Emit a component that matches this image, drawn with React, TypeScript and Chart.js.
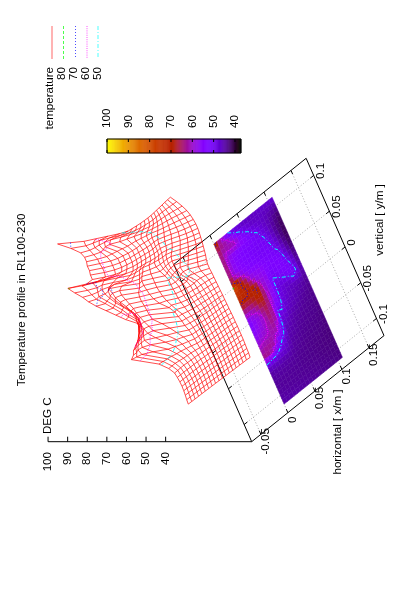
import React, { useEffect, useRef } from "react";
import { Chart, registerables } from "chart.js";

Chart.register(...registerables);

const chartTitle = "Temperature profile in RL100-230";
const xAxisTitle = "horizontal [ x/m ]";
const yAxisTitle = "vertical [ y/m ]";
const zAxisTitle = "DEG C";
const surfaceName = "temperature";

const xTicks = [-0.05, 0, 0.05, 0.1, 0.15];
const yTicks = [-0.1, -0.05, 0, 0.05, 0.1];
const zTicks = [40, 50, 60, 70, 80, 90, 100];
const colorTicks = [100, 90, 80, 70, 60, 50, 40];
const contourLevels = [80, 70, 60, 50];
const contourColors = ["#00ff00", "#0000ff", "#ff00ff", "#00ffff"];
const contourDashes = [[3, 2], [1, 2], [1, 1.2], [4, 2, 1, 2]];

const xRange = [-0.067, 0.178];
const yRange = [-0.124, 0.124];
const gridX = [0, 0.108];
const gridY = [0.112, -0.112];

// Temperature by row (x, front to back) and column (y, high to low)
const temperature: number[][] = [
  [75.8,70,66,65,65,65.6,65.5,66,66,70,80.5,78,75,73,70,66,62,58,52,53,54,55.5,57,59,61,62,64,51,47,45,44.6,44.3,44.2,44.3,44.5,44.8,45],
  [64,64,63,62,61,61,60.5,60.5,61,66,75,73,72,70.5,67,64,61,58,55,55,56,57,58,60,61.5,62,63,50.5,47,45,44.6,44.3,44.2,44.3,44.5,44.7,44.9],
  [59.6,62,62,60,58,57,57,57,57.5,63,71,70,70.5,71,68,65,62,60,57,57,57.5,58,59,60.5,62,63,62,50,47,45.2,44.6,44.3,44.2,44.2,44.4,44.6,44.8],
  [55,60.5,61.5,60.5,57,55,55,55,56,60,67,69,70,69.5,68,66,63,60.5,58.5,58,58.5,59,59.5,61,62,62.5,58,49.5,46.5,45.2,44.6,44.3,44.1,44.1,44.3,44.5,44.7],
  [50.6,57,60.5,61,56,54,54,54,55,56.5,62,65,68,69.5,69.5,68,66,63.5,61,60,60,60.5,60.5,61.5,62,60,52,48.5,46,45,44.5,44.2,44.1,44.1,44.3,44.5,44.7],
  [48,53,59,60.5,55,53,53,53,53.5,54.5,57,60,67,71,70,69.5,68,66,64.5,64,63,62.5,62,61,58,54,50,48,45.8,44.8,44.4,44.2,44.1,44.1,44.2,44.4,44.6],
  [47.5,50,55.5,57,54,52.5,52.5,52.5,53,54,56,58,60,66,68,68,67,66,65,64.5,63.5,62.5,61,60,54,50,48,47,45.5,44.7,44.3,44.1,44,44,44.1,44.3,44.5],
  [47,48.5,52.5,55,53.5,52,52,52,52.5,53.5,55.5,56.5,57.5,58.5,59.5,61,61.5,61.5,61,60.8,60.5,60,56,53,50.5,48,46.5,46,45,44.5,44.2,44,43.9,43.9,44,44.2,44.4],
  [46.6,47.5,50,53,53,52,51.5,51.5,52,53,55.5,56.5,58,59,59,58.5,58,57,55,51,49,48.3,47.5,47,46,45.3,45,44.7,44.4,44.1,43.9,43.8,43.8,43.9,44,44.1,44.3],
  [46.4,47,49,51,52,51.5,51,51,51.5,52,54,54.5,55,55,55,55,54.5,54,53,51.5,50,48,47,46,45.3,45,44.7,44.4,44.1,43.9,43.8,43.7,43.7,43.8,43.9,44,44.2],
  [46.3,46.5,47.5,49.5,51,51,50.7,50.7,51,51.5,53,53,52,50.5,49.5,49.5,49.3,49,48.8,48.3,47.5,46.8,46,45.4,45,44.7,44.4,44.1,43.9,43.8,43.7,43.6,43.6,43.7,43.8,43.9,44.1],
  [46.3,46.3,47,48.5,50.2,50.8,50.8,51,51,51.3,52.5,52.5,52,51,50,48.8,48,47.8,47.5,47,46.5,46,45.3,44.8,44.5,44.3,44.1,43.9,43.8,43.6,43.5,43.5,43.5,43.6,43.7,43.8,44],
  [46.5,46.4,46.8,47.5,48.5,49.6,50.5,51,51.2,51.5,52,52.5,52.5,52,51,49,47.5,47,46.8,46.4,46,45.5,44.9,44.5,44.3,44.1,43.9,43.7,43.6,43.5,43.4,43.4,43.4,43.5,43.6,43.7,43.9],
  [46.8,46.5,46.5,46.8,47.3,48,48.8,49.5,50,50.6,52,52.5,52.7,52.5,51.5,50,47.3,46.4,46.2,45.9,45.5,45,44.5,44.2,44,43.9,43.7,43.6,43.5,43.4,43.3,43.3,43.3,43.4,43.5,43.6,43.8],
  [47,46.5,46.2,46.2,46.3,46.7,47,47.8,48.5,49.4,50.7,52,52.5,52.5,52,51,48.5,46.2,45.7,45.4,45,44.6,44.2,44,43.8,43.7,43.6,43.5,43.4,43.3,43.2,43.2,43.2,43.3,43.4,43.5,43.7],
  [47.3,46.4,45.8,45.4,45.2,45,45,45.5,46,47,48,49,49.8,51,52,51.5,50,46.5,45.4,45,44.6,44.2,44,43.8,43.7,43.6,43.5,43.4,43.3,43.2,43.1,43.1,43.1,43.2,43.3,43.4,43.6],
  [47.6,46.2,45.2,44.5,44,43.6,43.4,43.6,44,44.8,45.5,46.5,47.5,48.5,49.7,50.5,48.5,46.2,45,44.6,44.2,44,43.8,43.7,43.6,43.5,43.4,43.3,43.2,43.1,43,43,43,43.1,43.2,43.3,43.5],
  [47.8,46,44.6,43.5,42.8,42.4,42.2,42.2,42.4,42.8,43.2,44,44.8,45.6,46.4,47,46.6,45.4,44.6,44.2,43.9,43.7,43.6,43.5,43.4,43.3,43.2,43.1,43,42.9,42.9,42.9,42.9,43,43.1,43.2,43.4],
  [48,45.8,44,42.6,41.8,41.3,41,41,41.2,41.5,41.8,42.2,42.6,43,43.6,44,44,43.8,43.7,43.6,43.5,43.4,43.3,43.2,43.1,43,42.9,42.8,42.8,42.7,42.7,42.7,42.7,42.8,42.9,43,43.2],
];

const rows = temperature.length;
const cols = temperature[0].length;
const rowX = (i: number) => gridX[0] + ((gridX[1] - gridX[0]) * i) / (rows - 1);
const colY = (j: number) => gridY[0] + ((gridY[1] - gridY[0]) * j) / (cols - 1);

// Projection of the rotated gnuplot view onto the page
const Z_BASE = -3.9;
function project(x: number, y: number, z: number = Z_BASE) {
  const dx = x - xRange[0];
  const dy = y - yRange[0];
  return {
    x: 251.7 + 540 * dx - 314 * dy - 1.96 * (z - Z_BASE),
    y: 441.7 - 433 * dx - 715 * dy,
  };
}

// gnuplot palette rgbformulae 7,5,15
function paletteColor(t: number) {
  const g = Math.min(1, Math.max(0, (t - 37.7) / 62.3));
  const r = Math.sqrt(g);
  const gg = g * g * g;
  const b = Math.max(0, Math.sin(2 * Math.PI * g));
  return `rgb(${Math.round(r * 255)},${Math.round(gg * 255)},${Math.round(b * 255)})`;
}

function contourLines(level: number) {
  const lines: { x: number; y: number }[][] = [];
  const links = new Map<string, string[]>();
  const pos = new Map<string, { x: number; y: number }>();
  const crossing = (a: number[], b: number[]) => {
    const ta = temperature[a[0]][a[1]];
    const tb = temperature[b[0]][b[1]];
    if (ta >= level === tb >= level) return null;
    const key = `${a[0]},${a[1]}-${b[0]},${b[1]}`;
    const f = (level - ta) / (tb - ta);
    pos.set(key, { x: a[0] + (b[0] - a[0]) * f, y: a[1] + (b[1] - a[1]) * f });
    return key;
  };
  const link = (p: string, q: string) => {
    links.set(p, [...(links.get(p) || []), q]);
    links.set(q, [...(links.get(q) || []), p]);
  };
  for (let i = 0; i < rows - 1; i++) {
    for (let j = 0; j < cols - 1; j++) {
      const found = [
        crossing([i, j], [i + 1, j]),
        crossing([i, j + 1], [i + 1, j + 1]),
        crossing([i, j], [i, j + 1]),
        crossing([i + 1, j], [i + 1, j + 1]),
      ].filter(Boolean) as string[];
      if (found.length >= 2) link(found[0], found[1]);
      if (found.length === 4) link(found[2], found[3]);
    }
  }
  const seen = new Set<string>();
  const walk = (start: string) => {
    const chain = [start];
    seen.add(start);
    let cur = start;
    for (;;) {
      const next = (links.get(cur) || []).find((k) => !seen.has(k));
      if (!next) break;
      seen.add(next);
      chain.push(next);
      cur = next;
    }
    lines.push(chain.map((k) => pos.get(k)!));
  };
  for (const [k, v] of links) if (v.length === 1 && !seen.has(k)) walk(k);
  for (const k of links.keys()) if (!seen.has(k)) walk(k);
  return lines;
}

const fracX = (r: number) => gridX[0] + ((gridX[1] - gridX[0]) * r) / (rows - 1);
const fracY = (c: number) => gridY[0] + ((gridY[1] - gridY[0]) * c) / (cols - 1);

function withGaps(lines: { x: number; y: number }[][]) {
  const out: any[] = [];
  lines.forEach((l) => {
    l.forEach((p) => out.push(p));
    out.push({ x: NaN, y: NaN });
  });
  return out;
}

// A non-empty dash keeps Chart.js off its x-collapsing fast path, which would
// damage the near-vertical lines of the mesh.
const SOLID = [1000, 0];

const lineSet = (data: any[], color: string, width: number, dash: number[] = SOLID) => ({
  type: "scatter" as const,
  data,
  showLine: true,
  spanGaps: false,
  pointRadius: 0,
  pointHoverRadius: 0,
  borderColor: color,
  borderWidth: width,
  borderDash: dash,
  fill: false,
  tension: 0,
});

function buildDatasets() {
  const ds: any[] = [];
  // drawn last-to-first: the first entries end up on top
  contourLevels.forEach((lv, n) => {
    const lines = contourLines(lv);
    ds.push(
      lineSet(
        withGaps(lines.map((l) => l.map((p) => project(fracX(p.x), fracY(p.y), lv)))),
        contourColors[n], 0.8, contourDashes[n]
      )
    );
  });
  const mesh: { x: number; y: number }[][] = [];
  temperature.forEach((row, i) => mesh.push(row.map((t, j) => project(rowX(i), colY(j), t))));
  for (let j = 0; j < cols; j++) {
    mesh.push(temperature.map((row, i) => project(rowX(i), colY(j), row[j])));
  }
  ds.push(lineSet(withGaps(mesh), "#ff0000", 0.7));
  contourLevels.forEach((lv, n) => {
    const lines = contourLines(lv);
    ds.push(
      lineSet(
        withGaps(lines.map((l) => l.map((p) => project(fracX(p.x), fracY(p.y))))),
        contourColors[n], 1, contourDashes[n]
      )
    );
  });

  // legend keys
  const keyTop = 26;
  const keyBottom = 59;
  ds.push(lineSet([{ x: 52, y: keyTop }, { x: 52, y: keyBottom }], "#ff0000", 0.6));
  [63.5, 75.5, 87, 98].forEach((px, n) => {
    ds.push(lineSet([{ x: px, y: keyTop }, { x: px, y: keyBottom }], contourColors[n], 0.7, contourDashes[n]));
  });

  // z axis
  const zAxis = [project(xRange[0], yRange[0], 100), project(xRange[0], yRange[0], Z_BASE)];
  ds.push(lineSet(zAxis, "#000", 1));
  const zt: any[] = [];
  zTicks.forEach((z) => {
    const p = project(xRange[0], yRange[0], z);
    zt.push(p, { x: p.x, y: p.y - 5 }, { x: NaN, y: NaN });
  });
  ds.push(lineSet(zt, "#000", 1));

  // colour bar frame and ticks
  const cbX = (t: number) => 107 + (100 - t) * 2.133;
  const cbL = 107;
  const cbR = 241;
  const cbT = 139;
  const cbB = 153;
  ds.push(
    lineSet(
      [{ x: cbL, y: cbT }, { x: cbR, y: cbT }, { x: cbR, y: cbB }, { x: cbL, y: cbB }, { x: cbL, y: cbT }],
      "#000", 1
    )
  );
  const ct: any[] = [];
  colorTicks.forEach((t) => {
    const px = cbX(t);
    ct.push({ x: px, y: cbT }, { x: px, y: cbT + 3 }, { x: NaN, y: NaN });
    ct.push({ x: px, y: cbB - 3 }, { x: px, y: cbB }, { x: NaN, y: NaN });
  });
  ds.push(lineSet(ct, "#000", 1));

  // base frame and ticks
  const corners = [
    project(xRange[0], yRange[0]),
    project(xRange[1], yRange[0]),
    project(xRange[1], yRange[1]),
    project(xRange[0], yRange[1]),
    project(xRange[0], yRange[0]),
  ];
  ds.push(lineSet(corners, "#000", 1));
  const ticks: any[] = [];
  const tickLenX = 0.006;
  const tickLenY = 0.005;
  xTicks.forEach((x) => {
    ticks.push(project(x, yRange[0]), project(x, yRange[0] + tickLenY), { x: NaN, y: NaN });
    ticks.push(project(x, yRange[1]), project(x, yRange[1] - tickLenY), { x: NaN, y: NaN });
  });
  yTicks.forEach((y) => {
    ticks.push(project(xRange[1], y), project(xRange[1] - tickLenX, y), { x: NaN, y: NaN });
    ticks.push(project(xRange[0], y), project(xRange[0] + tickLenX, y), { x: NaN, y: NaN });
  });
  ds.push(lineSet(ticks, "#000", 1));

  // base grid, drawn first of all
  const grid: any[] = [];
  xTicks.forEach((x) => grid.push(project(x, yRange[0]), project(x, yRange[1]), { x: NaN, y: NaN }));
  yTicks.forEach((y) => grid.push(project(xRange[0], y), project(xRange[1], y), { x: NaN, y: NaN }));
  ds.push(lineSet(grid, "#a8a8a8", 1, [1, 2]));
  return ds;
}

const heatPlugin = {
  id: "heat",
  afterDatasetDraw(chart: any, args: any) {
    if (args.index !== chart.data.datasets.length - 1) return;
    const { ctx } = chart;
    const sx = chart.scales.x;
    const sy = chart.scales.y;
    const quad = (pts: { x: number; y: number }[], color: string) => {
      ctx.beginPath();
      pts.forEach((p, n) => {
        const px = sx.getPixelForValue(p.x);
        const py = sy.getPixelForValue(p.y);
        if (n) ctx.lineTo(px, py);
        else ctx.moveTo(px, py);
      });
      ctx.closePath();
      ctx.fillStyle = color;
      ctx.strokeStyle = color;
      ctx.lineWidth = 0.5;
      ctx.fill();
      ctx.stroke();
    };
    ctx.save();
    for (let i = 0; i < rows - 1; i++) {
      for (let j = 0; j < cols - 1; j++) {
        const t =
          (temperature[i][j] + temperature[i + 1][j] + temperature[i][j + 1] + temperature[i + 1][j + 1]) / 4;
        quad(
          [
            project(rowX(i), colY(j)),
            project(rowX(i + 1), colY(j)),
            project(rowX(i + 1), colY(j + 1)),
            project(rowX(i), colY(j + 1)),
          ],
          paletteColor(t)
        );
      }
    }
    // colour bar
    const cbX = (t: number) => 107 + (100 - t) * 2.133;
    for (let t = 100; t > 37.2; t -= 0.5) {
      const l = cbX(t);
      const r = Math.min(241, cbX(t - 0.5));
      quad([{ x: l, y: 139 }, { x: r, y: 139 }, { x: r, y: 153 }, { x: l, y: 153 }], paletteColor(t - 0.25));
    }
    ctx.restore();
  },
};

const textPlugin = {
  id: "texts",
  afterDraw(chart: any) {
    const { ctx } = chart;
    const sx = chart.scales.x;
    const sy = chart.scales.y;
    const put = (s: string, x: number, y: number, align: CanvasTextAlign = "center") => {
      ctx.save();
      ctx.translate(sx.getPixelForValue(x), sy.getPixelForValue(y));
      ctx.rotate(-Math.PI / 2);
      ctx.textAlign = align;
      ctx.textBaseline = "middle";
      ctx.fillStyle = "#000";
      ctx.font = "11.6px 'Liberation Sans', Arial, sans-serif";
      ctx.fillText(s, 0, 0);
      ctx.restore();
    };
    put(chartTitle, 21.7, 300);
    put(surfaceName, 50, 67, "right");
    contourLevels.forEach((lv, n) => put(String(lv), [62, 74, 86, 98][n], 67, "right"));
    colorTicks.forEach((t) => put(String(t), 107 + (100 - t) * 2.133, 128, "left"));
    zTicks.forEach((z) => {
      const p = project(xRange[0], yRange[0], z);
      put(String(z), p.x, 452, "right");
    });
    put(zAxisTitle, 48, 434, "left");
    xTicks.forEach((x) => {
      const p = project(x, yRange[0]);
      put(String(x), p.x + 4.5, p.y + 7);
    });
    yTicks.forEach((y) => {
      const p = project(xRange[1], y);
      put(String(y), p.x + 7, p.y - 4.5);
    });
    put(xAxisTitle, 338, 432);
    put(yAxisTitle, 380, 220);
  },
};

export default function App() {
  const ref = useRef<HTMLCanvasElement>(null);
  useEffect(() => {
    const chart = new Chart(ref.current!, {
      type: "scatter",
      data: { datasets: buildDatasets() },
      options: {
        animation: false,
        responsive: false,
        events: [],
        layout: { padding: 0 },
        plugins: { legend: { display: false }, tooltip: { enabled: false }, title: { display: false } },
        scales: {
          x: { type: "linear", min: 0, max: 420, display: false },
          y: { type: "linear", min: 0, max: 600, reverse: true, display: false },
        },
      },
      plugins: [heatPlugin, textPlugin],
    } as any);
    return () => chart.destroy();
  }, []);
  return (
    <canvas
      ref={ref}
      width={420}
      height={600}
      style={{ position: "absolute", left: 0, top: 0, width: 420, height: 600, background: "#fff" }}
    />
  );
}
